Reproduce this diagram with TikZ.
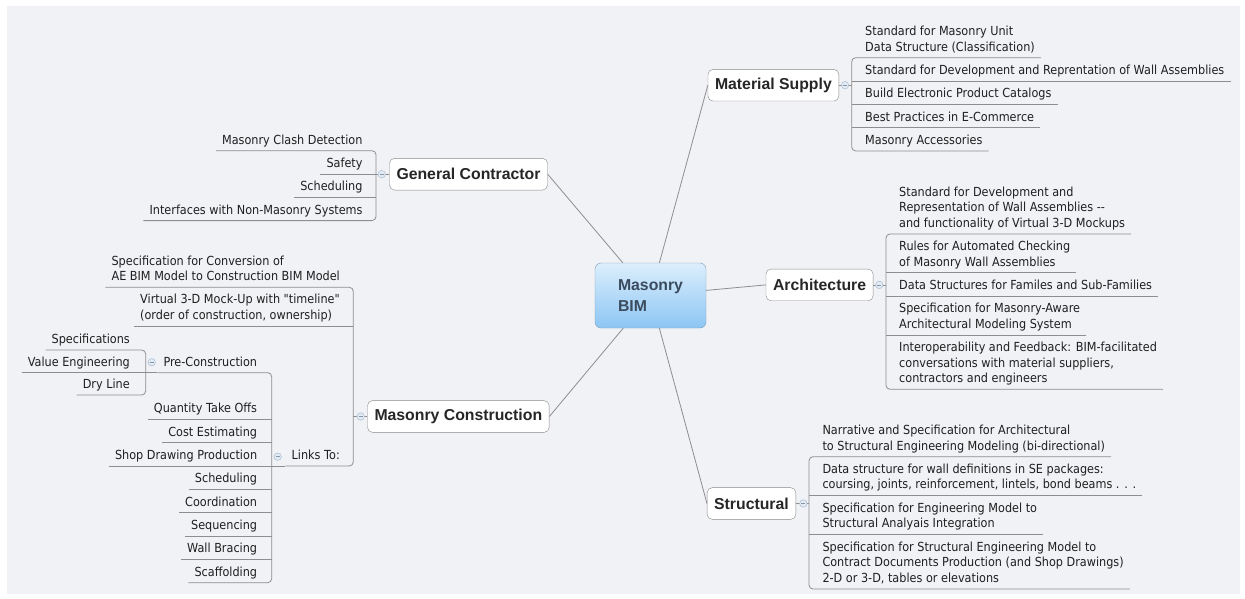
\documentclass[tikz,border=0pt]{standalone}
\usepackage{fontspec}
\setmainfont{DejaVu Sans}
\newfontfamily\itemfamily[FakeStretch=0.9,Ligatures=TeXOff]{DejaVu Sans}
\newfontfamily\headfamily[Ligatures=TeXOff]{Liberation Sans}
\definecolor{mapbg}{HTML}{F1F2F6}
\definecolor{treeline}{HTML}{8E8E8E}
\definecolor{boxline}{HTML}{8A8A8A}
\definecolor{bimtop}{HTML}{DCEEFC}
\definecolor{bimbot}{HTML}{8CC6F4}
\definecolor{bimline}{HTML}{7F9CBA}
\definecolor{bimtext}{HTML}{3B4B5E}
\definecolor{foldline}{HTML}{A9BDD2}
\definecolor{foldfill}{HTML}{E2EAF3}
\newcommand\itemfont{\itemfamily\fontsize{12.5}{15.6}\selectfont}
\newcommand\headfont{\headfamily\bfseries\fontsize{15.8}{20.7}\selectfont}
\newcommand\itemstrut{\rule[-6.4pt]{0pt}{6.4pt}}
\tikzset{
  topic/.style={draw=boxline, fill=white, rounded corners=5pt, font=\headfont, text=black!85,
    inner xsep=7pt, inner ysep=0pt, minimum height=31.7pt},
  ritem/.style={anchor=south west, align=left, font=\itemfont, text=black!88,
    inner xsep=6pt, inner ysep=0pt, execute at end node=\itemstrut},
  litem/.style={ritem, anchor=south east},
  fold/.style={circle, draw=foldline, fill=foldfill, line width=0.5pt, inner sep=0pt, minimum size=7.5pt,
    path picture={\draw[foldline!80!black, line width=0.6pt]
      ([xshift=-2pt]path picture bounding box.center) -- ([xshift=2pt]path picture bounding box.center);}},
  branch/.style={draw=treeline, line width=0.8pt},
  tree/.style={draw=treeline, line width=0.8pt, rounded corners=4pt}
}
\begin{document}
\begin{tikzpicture}[x=1pt, y=-1pt]
    \useasboundingbox (0,0) rectangle (1245,599);
    \fill[white] (0,0) rectangle (1245,599);
    \fill[mapbg] (7,6) rectangle (1240,594);

    \node[draw=bimline, top color=bimtop, bottom color=bimbot, rounded corners=6pt, minimum width=111pt,
      minimum height=65pt, align=left, font=\headfont, text=bimtext] (bim) at (650.5,295.5) {Masonry\\BIM};

    \node[topic, anchor=west] (gc) at (389.3,174.2) {General Contractor};
    \node[topic, anchor=east] (ms) at (839,85.2) {Material Supply};
    \node[topic, anchor=east] (ar) at (873.3,284.9) {Architecture};
    \node[topic, anchor=west] (mc) at (367.3,416.5) {Masonry Construction};
    \node[topic, anchor=east] (st) at (796,503.5) {Structural};

    \draw[branch] (bim) -- (gc.east);
    \draw[branch] (bim) -- (ms.west);
    \draw[branch] (bim) -- (ar.west);
    \draw[branch] (bim) -- (mc.east);
    \draw[branch] (bim) -- (st.west);

    \coordinate (gc-sp) at (376,174.2);
    \coordinate (ms-sp) at (851.7,85.2);
    \coordinate (ar-sp) at (886,284.9);
    \coordinate (mc-sp) at (353.3,416.5);
    \coordinate (st-sp) at (809,503.5);
    \coordinate (lt-sp) at (271.7,466);
    \coordinate (pc-sp) at (145.7,372.7);

    % general contractor
    \node[litem] (gc1) at (368.7,150.7) {Masonry Clash Detection};
    \node[litem] (gc2) at (368.7,174) {Safety};
    \node[litem] (gc3) at (368.7,197.3) {Scheduling};
    \node[litem] (gc4) at (368.7,220.6) {Interfaces with Non-Masonry Systems};
    \draw[tree] (gc1.south west) -- (gc1.south -| gc-sp) -- (gc4.south -| gc-sp) -- (gc4.south west);
    \draw[tree] (gc2.south west) -- (gc2.south -| gc-sp);
    \draw[tree] (gc3.south west) -- (gc3.south -| gc-sp);
    \draw[tree] (gc.west) -- (gc-sp);

    % material supply
    \node[ritem] (ms1) at (859,57.7) {Standard for Masonry Unit\\Data Structure (Classification)};
    \node[ritem] (ms2) at (859,81) {Standard for Development and Reprentation of Wall Assemblies};
    \node[ritem] (ms3) at (859,104.3) {Build Electronic Product Catalogs};
    \node[ritem] (ms4) at (859,127.7) {Best Practices in E-Commerce};
    \node[ritem] (ms5) at (859,151) {Masonry Accessories};
    \draw[tree] (ms1.south east) -- (ms1.south -| ms-sp) -- (ms5.south -| ms-sp) -- (ms5.south east);
    \draw[tree] (ms2.south east) -- (ms2.south -| ms-sp);
    \draw[tree] (ms3.south east) -- (ms3.south -| ms-sp);
    \draw[tree] (ms4.south east) -- (ms4.south -| ms-sp);
    \draw[tree] (ms.east) -- (ms-sp);

    % architecture
    \node[ritem] (ar1) at (893,234) {Standard for Development and\\Representation of Wall Assemblies --\\and functionality of Virtual 3-D Mockups};
    \node[ritem] (ar2) at (893,272.7) {Rules for Automated Checking\\of Masonry Wall Assemblies};
    \node[ritem] (ar3) at (893,296.3) {Data Structures for Familes and Sub-Families};
    \node[ritem] (ar4) at (893,335) {Specification for Masonry-Aware\\Architectural Modeling System};
    \node[ritem] (ar5) at (893,389.3) {Interoperability and Feedback: BIM-facilitated\\conversations with material suppliers,\\contractors and engineers};
    \draw[tree] (ar1.south east) -- (ar1.south -| ar-sp) -- (ar5.south -| ar-sp) -- (ar5.south east);
    \draw[tree] (ar2.south east) -- (ar2.south -| ar-sp);
    \draw[tree] (ar3.south east) -- (ar3.south -| ar-sp);
    \draw[tree] (ar4.south east) -- (ar4.south -| ar-sp);
    \draw[tree] (ar.east) -- (ar-sp);

    % structural
    \node[ritem] (st1) at (816.3,456.7) {Narrative and Specification for Architectural\\to Structural Engineering Modeling (bi-directional)};
    \node[ritem] (st2) at (816.3,495.3) {Data structure for wall definitions in SE packages:\\coursing, joints, reinforcement, lintels, bond beams . . .};
    \node[ritem] (st3) at (816.3,534.3) {Specification for Engineering Model to\\Structural Analyais Integration};
    \node[ritem] (st4) at (816.3,589) {Specification for Structural Engineering Model to\\Contract Documents Production (and Shop Drawings)\\2-D or 3-D, tables or elevations};
    \draw[tree] (st1.south east) -- (st1.south -| st-sp) -- (st4.south -| st-sp) -- (st4.south east);
    \draw[tree] (st2.south east) -- (st2.south -| st-sp);
    \draw[tree] (st3.south east) -- (st3.south -| st-sp);
    \draw[tree] (st.east) -- (st-sp);

    % masonry construction
    \node[litem] (mc1) at (346,287.3) {Specification for Conversion of\\AE BIM Model to Construction BIM Model};
    \node[litem] (mc2) at (346,326) {Virtual 3-D Mock-Up with "timeline"\\(order of construction, ownership)};
    \node[litem] (lt) at (346,466) {Links To:};
    \draw[tree] (mc1.south west) -- (mc1.south -| mc-sp) -- (lt.south -| mc-sp) -- (lt.south west);
    \draw[tree] (mc2.south west) -- (mc2.south -| mc-sp);
    \draw[tree] (mc.west) -- (mc-sp);

    % links to
    \node[litem] (pc) at (263.3,372.7) {Pre-Construction};
    \node[litem] (lt1) at (263.3,419.3) {Quantity Take Offs};
    \node[litem] (lt2) at (263.3,442.7) {Cost Estimating};
    \node[litem] (lt3) at (263.3,466) {Shop Drawing Production};
    \node[litem] (lt4) at (263.3,489.3) {Scheduling};
    \node[litem] (lt5) at (263.3,512.7) {Coordination};
    \node[litem] (lt6) at (263.3,536) {Sequencing};
    \node[litem] (lt7) at (263.3,559.3) {Wall Bracing};
    \node[litem] (lt8) at (263.3,582.7) {Scaffolding};
    \draw[tree] (pc.south west) -- (pc.south -| lt-sp) -- (lt8.south -| lt-sp) -- (lt8.south west);
    \draw[tree] (lt1.south west) -- (lt1.south -| lt-sp);
    \draw[tree] (lt2.south west) -- (lt2.south -| lt-sp);
    \draw[tree] (lt3.south west) -- (lt3.south -| lt-sp);
    \draw[tree] (lt4.south west) -- (lt4.south -| lt-sp);
    \draw[tree] (lt5.south west) -- (lt5.south -| lt-sp);
    \draw[tree] (lt6.south west) -- (lt6.south -| lt-sp);
    \draw[tree] (lt7.south west) -- (lt7.south -| lt-sp);
    \draw[tree] (lt.south west) -- (lt-sp);

    % pre-construction
    \node[litem] (pc1) at (136,350) {Specifications};
    \node[litem] (pc2) at (136,372.7) {Value Engineering};
    \node[litem] (pc3) at (136,395) {Dry Line};
    \draw[tree] (pc1.south west) -- (pc1.south -| pc-sp) -- (pc3.south -| pc-sp) -- (pc3.south west);
    \draw[tree] (pc2.south west) -- (pc2.south -| pc-sp);
    \draw[tree] (pc.south west) -- (pc-sp);

    \node[fold] (gc-f) at (381.7,174.2) {};
    \node[fold] (ms-f) at (845,85.2) {};
    \node[fold] (ar-f) at (879.3,284.9) {};
    \node[fold] (mc-f) at (360.7,416.5) {};
    \node[fold] (st-f) at (803.3,503.5) {};
    \node[fold] (lt-f) at (277.7,456.7) {};
    \node[fold] (pc-f) at (151.7,362.3) {};
\end{tikzpicture}
\end{document}
